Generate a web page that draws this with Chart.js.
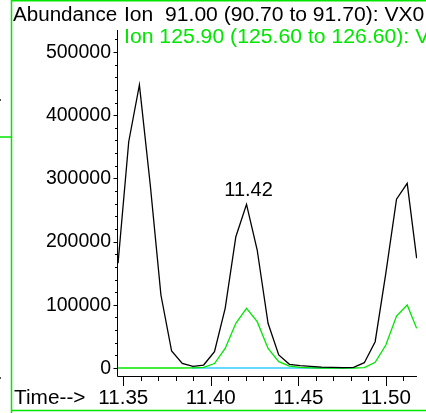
<!DOCTYPE html>
<html>
<head>
<meta charset="utf-8">
<script src="https://cdn.jsdelivr.net/npm/chart.js@4"></script>
<style>
  html, body { margin: 0; padding: 0; background: #fff; }
  #wrap { position: relative; width: 426px; height: 413px; overflow: hidden; }
</style>
</head>
<body>
<div id="wrap"><canvas id="tic" width="426" height="413"></canvas></div>
<script>
/* ── 離子層析圖 (EIC) ───────────────────────── */

// 掃描時間 (min)
const scanTimes = [
  11.3470, 11.3531, 11.3592, 11.3654, 11.3715, 11.3776, 11.3837, 11.3898,
  11.3959, 11.4021, 11.4082, 11.4143, 11.4204, 11.4265, 11.4327, 11.4388,
  11.4449, 11.4510, 11.4571, 11.4633, 11.4694, 11.4755, 11.4816, 11.4877,
  11.4939, 11.5000, 11.5061, 11.5122, 11.5176
];

// Ion 91.00 豐度
const ion91 = [
  165700, 358000, 447800, 290000, 115500, 26900, 7400, 2500,
  4700, 25800, 94400, 207700, 259000, 186700, 70700, 20600,
  5800, 3700, 2500, 1500, 1000, 500, 1000, 8400,
  41600, 150000, 267000, 292200, 173600
];

// Ion 125.90 豐度
const ion1259 = [
  0, 0, 0, 0, 0, 0, 0, 300,
  1000, 7000, 31000, 70700, 94400, 73300, 31000, 10000,
  3000, 1000, 300, 0, 0, 0, 0, 500,
  9000, 36400, 82300, 99700, 62800
];

// 積分基線 (起點、終點)
const baselineTimes  = [11.389, 11.481];
const baselineValues = [0, 0];

// 標註的峰 (scanTimes 索引)
const labelledPeak = 12;

// 刻度
const xMajorTicks = [11.35, 11.40, 11.45, 11.50];
const xMinorTicks = [11.36, 11.37, 11.38, 11.39, 11.41, 11.42, 11.43, 11.44,
                     11.46, 11.47, 11.48, 11.49, 11.51];
const yMajorTicks = [0, 100000, 200000, 300000, 400000, 500000];
const yMinorTicks = [20000, 40000, 60000, 80000, 120000, 140000, 160000, 180000,
                     220000, 240000, 260000, 280000, 320000, 340000, 360000, 380000,
                     420000, 440000, 460000, 480000, 520000];

const title91   = 'Ion  91.00 (90.70 to 91.70): VX0';
const title1259 = 'Ion 125.90 (125.60 to 126.60): V';

const FONT  = '"Liberation Sans", Arial, sans-serif';
const GREEN = '#00e600';

const toPoints = (xs, ys) => xs.map((t, i) => ({ x: t, y: ys[i] }));

/* 水平拉寬的文字 */
function wideText(ctx, text, x, y, sx) {
  ctx.save();
  ctx.translate(x, y);
  ctx.scale(sx, 1);
  ctx.fillText(text, 0, 0);
  ctx.restore();
}

/* 軸線、刻度、文字與外框 */
const decorations = {
  id: 'decorations',
  afterDraw(chart) {
    const ctx  = chart.ctx;
    const xs   = chart.scales.x;
    const ys   = chart.scales.y;
    const area = chart.chartArea;
    ctx.save();

    // 外框（綠）
    ctx.strokeStyle = GREEN;
    ctx.lineWidth = 1.5;
    ctx.beginPath();
    ctx.moveTo(11.5, 0); ctx.lineTo(11.5, 413);
    ctx.moveTo(11, 0.75); ctx.lineTo(426, 0.75);
    ctx.moveTo(11, 410.5); ctx.lineTo(426, 410.5);
    ctx.moveTo(0, 137); ctx.lineTo(11, 137);
    ctx.stroke();
    ctx.fillStyle = '#555';
    ctx.fillRect(0, 99, 1, 2);
    ctx.fillRect(0, 377, 1, 2);

    // 座標軸
    ctx.strokeStyle = '#000';
    ctx.lineWidth = 1;
    ctx.beginPath();
    ctx.moveTo(area.left + 0.5, area.top);
    ctx.lineTo(area.left + 0.5, area.bottom + 0.5);
    ctx.lineTo(area.right, area.bottom + 0.5);

    // Y 軸刻度
    yMajorTicks.forEach(v => {
      const py = Math.round(ys.getPixelForValue(v)) + 0.5;
      ctx.moveTo(area.left - 3.5, py); ctx.lineTo(area.left, py);
    });
    yMinorTicks.forEach(v => {
      const py = Math.round(ys.getPixelForValue(v)) + 0.5;
      ctx.moveTo(area.left - 2, py); ctx.lineTo(area.left, py);
    });

    // X 軸刻度
    xMajorTicks.forEach(v => {
      const px = Math.round(xs.getPixelForValue(v)) + 0.5;
      ctx.moveTo(px, area.bottom); ctx.lineTo(px, area.bottom + 10);
    });
    xMinorTicks.forEach(v => {
      const px = Math.round(xs.getPixelForValue(v)) + 0.5;
      ctx.moveTo(px, area.bottom); ctx.lineTo(px, area.bottom + 5);
    });
    ctx.stroke();

    // 刻度文字
    ctx.fillStyle = '#000';
    ctx.font = `19.5px ${FONT}`;
    ctx.textAlign = 'right';
    ctx.textBaseline = 'middle';
    yMajorTicks.forEach(v => {
      ctx.fillText(String(v), area.left - 6, ys.getPixelForValue(v) + 0.5);
    });

    ctx.font = `20px ${FONT}`;
    ctx.textAlign = 'center';
    xMajorTicks.forEach(v => {
      wideText(ctx, v.toFixed(2), xs.getPixelForValue(v), area.bottom + 22, 1.03);
    });
    ctx.textAlign = 'left';
    wideText(ctx, 'Time-->', 14, area.bottom + 22, 1.04);

    // 標題
    ctx.textBaseline = 'alphabetic';
    wideText(ctx, 'Abundance', 13, 20.5, 1.03);
    wideText(ctx, title91, 124, 20.5, 1.055);
    ctx.fillStyle = GREEN;
    wideText(ctx, title1259, 124, 43, 1.06);

    // 峰值時間標註
    const pt = chart.getDatasetMeta(0).data[labelledPeak];
    ctx.fillStyle = '#000';
    ctx.textAlign = 'center';
    ctx.fillText(scanTimes[labelledPeak].toFixed(2), pt.x + 2, pt.y - 8);

    ctx.restore();
  }
};

new Chart(document.getElementById('tic'), {
  type: 'line',
  data: {
    datasets: [
      {
        label: 'Ion 91.00',
        data: toPoints(scanTimes, ion91),
        borderColor: '#000',
        borderWidth: 1.3,
        pointRadius: 0,
        tension: 0
      },
      {
        label: 'Ion 125.90',
        data: toPoints(scanTimes, ion1259),
        borderColor: GREEN,
        borderWidth: 1.3,
        pointRadius: 0,
        tension: 0
      },
      {
        label: 'baseline',
        data: toPoints(baselineTimes, baselineValues),
        borderColor: '#33ccff',
        borderWidth: 1.3,
        pointRadius: 0
      }
    ]
  },
  options: {
    responsive: false,
    animation: false,
    devicePixelRatio: 1,
    layout: { padding: { left: 117, top: 30, right: 9, bottom: 37 } },
    plugins: { legend: { display: false }, tooltip: { enabled: false } },
    scales: {
      x: { type: 'linear', display: false, min: 11.3464, max: 11.5178 },
      y: { type: 'linear', display: false, min: -12660, max: 534800 }
    }
  },
  plugins: [decorations]
});
</script>
</body>
</html>
